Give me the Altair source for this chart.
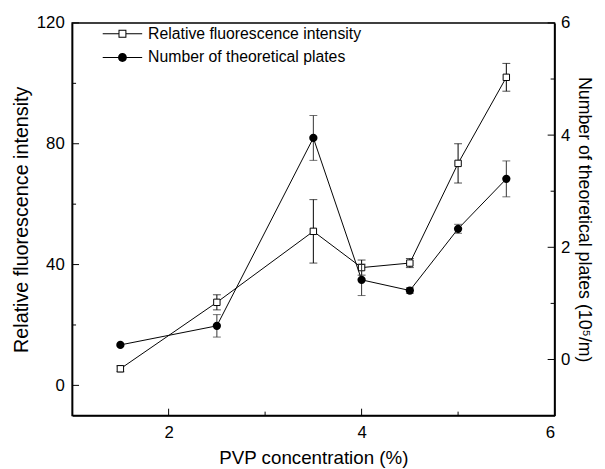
import altair as alt
import pandas as pd

# ---- data ----
pvp = [1.5, 2.5, 3.5, 4.0, 4.5, 5.0, 5.5]
fluor = [5.5, 27.5, 51.0, 39.0, 40.5, 73.5, 102.0]
fluor_err = [1.0, 2.5, 10.5, 2.5, 1.5, 6.5, 4.6]
plates = [0.26, 0.60, 3.95, 1.42, 1.23, 2.33, 3.22]
plates_err = [0.0, 0.20, 0.40, 0.28, 0.05, 0.08, 0.32]
series_names = ["Relative fluorescence intensity", "Number of theoretical plates"]

left_major = [0, 40, 80, 120]
left_minor = [20, 60, 100]
right_major = [0, 2, 4, 6]
right_minor = [1, 3, 5]
x_major = [2, 4, 6]
x_minor = [3, 5]

W, H = 489, 398
FONT = "Liberation Sans, Arial, Helvetica, sans-serif"

df = pd.DataFrame({
    "pvp": pvp,
    "fluor": fluor,
    "f_lo": [v - e for v, e in zip(fluor, fluor_err)],
    "f_hi": [v + e for v, e in zip(fluor, fluor_err)],
    "plates": plates,
    "p_lo": [v - e for v, e in zip(plates, plates_err)],
    "p_hi": [v + e for v, e in zip(plates, plates_err)],
    "p_err": plates_err,
})

xscale = alt.Scale(domain=[1, 6], nice=False, zero=False)
lscale = alt.Scale(domain=[-10, 120], nice=False, zero=False)
rscale = alt.Scale(domain=[-1, 6], nice=False, zero=False)

xaxis = alt.Axis(values=x_major, ticks=False, tickSize=0, labelPadding=9, grid=False,
                 title="PVP concentration (%)", titlePadding=9, titleFontSize=19, format="d")
laxis = alt.Axis(values=left_major, ticks=False, tickSize=0, labelPadding=8, grid=False,
                 title="Relative fluorescence intensity", titlePadding=5, orient="left")
raxis = alt.Axis(values=right_major, ticks=False, tickSize=0, labelPadding=6, grid=False,
                 title="Number of theoretical plates (10\u2075/m)", titlePadding=5,
                 titleFontSize=18, orient="right")

base = alt.Chart(df)


def X(field="pvp"):
    return alt.X(f"{field}:Q", scale=xscale, axis=xaxis)


def YL(field):
    return alt.Y(f"{field}:Q", scale=lscale, axis=laxis)


def YR(field):
    return alt.Y(f"{field}:Q", scale=rscale, axis=raxis)


# ---- left series (fluorescence) ----
f_line = base.mark_line(color="black", strokeWidth=1).encode(x=X(), y=YL("fluor"))
f_rule = base.mark_rule(color="black", strokeWidth=1).encode(x=X(), y=YL("f_lo"), y2="f_hi:Q")
f_cap_lo = base.mark_tick(color="black", orient="horizontal", size=8, thickness=1).encode(
    x=X(), y=YL("f_lo"))
f_cap_hi = base.mark_tick(color="black", orient="horizontal", size=8, thickness=1).encode(
    x=X(), y=YL("f_hi"))
f_pts = base.mark_point(shape="square", size=42, filled=True, fill="white",
                        stroke="black", strokeWidth=1, opacity=1).encode(x=X(), y=YL("fluor"))

lt_major = alt.Chart(pd.DataFrame({"v": left_major})).mark_rule(color="black", strokeWidth=1).encode(
    y=YL("v"), x=alt.value(0), x2=alt.value(7))
lt_minor = alt.Chart(pd.DataFrame({"v": left_minor})).mark_rule(color="black", strokeWidth=1).encode(
    y=YL("v"), x=alt.value(0), x2=alt.value(4))

left = alt.layer(f_line, f_rule, f_cap_lo, f_cap_hi, f_pts, lt_major, lt_minor)

# ---- right series (plates) ----
pe = base.transform_filter("datum.p_err > 0")
p_line = base.mark_line(color="black", strokeWidth=1).encode(x=X(), y=YR("plates"))
p_rule = pe.mark_rule(color="#333333", strokeWidth=1).encode(x=X(), y=YR("p_lo"), y2="p_hi:Q")
p_cap_lo = pe.mark_tick(color="#333333", orient="horizontal", size=8, thickness=1).encode(
    x=X(), y=YR("p_lo"))
p_cap_hi = pe.mark_tick(color="#333333", orient="horizontal", size=8, thickness=1).encode(
    x=X(), y=YR("p_hi"))
p_pts = base.mark_point(shape="circle", size=70, filled=True, color="black", opacity=1).encode(
    x=X(), y=YR("plates"))

rt_major = alt.Chart(pd.DataFrame({"v": right_major})).mark_rule(color="black", strokeWidth=1).encode(
    y=YR("v"), x=alt.value(W), x2=alt.value(W - 7))
rt_minor = alt.Chart(pd.DataFrame({"v": right_minor})).mark_rule(color="black", strokeWidth=1).encode(
    y=YR("v"), x=alt.value(W), x2=alt.value(W - 4))

right = alt.layer(p_line, p_rule, p_cap_lo, p_cap_hi, p_pts, rt_major, rt_minor)

# ---- bottom inward ticks ----
bt_major = alt.Chart(pd.DataFrame({"v": x_major})).mark_rule(color="black", strokeWidth=1).encode(
    x=X("v"), y=alt.value(H), y2=alt.value(H - 7))
bt_minor = alt.Chart(pd.DataFrame({"v": x_minor})).mark_rule(color="black", strokeWidth=1).encode(
    x=X("v"), y=alt.value(H), y2=alt.value(H - 4))

# ---- legend (native legend, custom filled-outline symbols) ----
sq_path = ("M-2,-0.05H-0.4V0.05H-2Z M0.4,-0.05H2V0.05H0.4Z "
           "M-0.4,-0.4H0.4V0.4H-0.4Z M-0.3,-0.3V0.3H0.3V-0.3Z")
ci_path = "M-2,-0.05H2V0.05H-2Z M0.45,0A0.45,0.45,0,1,1,-0.45,0A0.45,0.45,0,1,1,0.45,0Z"
leg = alt.Legend(title=None, orient="none", legendX=41, legendY=1, labelFontSize=16,
                 labelFont=FONT, labelColor="black", labelOffset=16, rowPadding=6,
                 labelLimit=400, symbolSize=400, symbolFillColor="black",
                 symbolStrokeColor="transparent", symbolStrokeWidth=0, padding=0)
legend_layer = alt.Chart(pd.DataFrame({"series": series_names})).mark_point(
    opacity=0, filled=True, color="black").encode(
    shape=alt.Shape("series:N", scale=alt.Scale(domain=series_names, range=[sq_path, ci_path]), legend=leg),
    size=alt.value(400),
    x=alt.value(-300), y=alt.value(-300),
)

chart = alt.layer(left, right, bt_major, bt_minor, legend_layer).resolve_scale(
    y="independent"
).properties(
    width=W, height=H,
    autosize=alt.AutoSizeParams(type="none"),
    padding={"left": 65, "top": 12, "right": 43, "bottom": 51},
).configure_view(
    stroke="black", strokeWidth=1.5
).configure_axis(
    domainColor="black", domainWidth=1.5, labelFont=FONT, titleFont=FONT,
    labelFontSize=17, titleFontSize=20, labelColor="black", titleColor="black",
    titleFontWeight="normal",
)

chart.save("out.html", embed_options={"renderer": "svg", "actions": False})
